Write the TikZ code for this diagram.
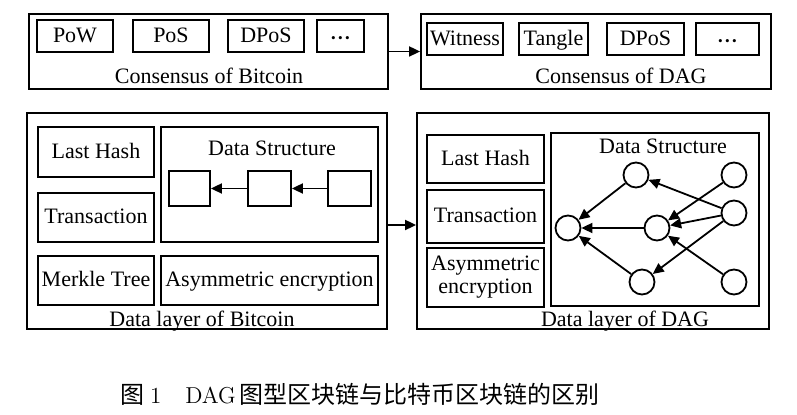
\documentclass[tikz,border=0pt]{standalone}
\usepackage{fontspec}
\setmainfont{Liberation Serif}
\newfontfamily\cjk{Noto Sans CJK SC}
\newfontfamily\lmfont{Latin Modern Roman}
\usetikzlibrary{arrows.meta}

\tikzset{
  box/.style={draw, line width=0.9pt, inner sep=0pt, align=center},
  txt/.style={text height=8pt, text depth=1.5pt},
  lbl/.style={inner sep=0pt, text height=8pt, text depth=1.5pt},
  vtx/.style={circle, draw, line width=0.9pt, minimum size=12.5pt, inner sep=0pt},
  arr/.style={-{Triangle[length=5.5pt,width=5pt]}, line width=0.9pt}
}
\newcommand{\onedot}{\scalebox{0.6}{\textbullet}}
\newcommand{\mydots}{\onedot\hspace{1.2pt}\onedot\hspace{1.2pt}\onedot}

\begin{document}
\begin{tikzpicture}[x=0.5pt, y=-0.5pt, font=\fontsize{11}{12.5}\selectfont]
  % Fix the canvas to the reference size
  \useasboundingbox (0,0) rectangle (797,415);

  % Consensus of Bitcoin
  \node[box, minimum width=179.5pt, minimum height=37.5pt] (cb) at (208.5,51.5) {};
  \node[box, txt, minimum width=38pt, minimum height=16pt] (pow) at (75,36) {PoW};
  \node[box, txt, minimum width=38pt, minimum height=16pt] (pos) at (171,36) {PoS};
  \node[box, txt, minimum width=38pt, minimum height=16pt] (dposb) at (266,36) {DPoS};
  \node[box, txt, minimum width=23.5pt, minimum height=16pt] (dotsb) at (340.5,36) {\mydots};
  \node[lbl] (cbtxt) at (209,77) {Consensus of Bitcoin};

  % Consensus of DAG
  \node[box, minimum width=175pt, minimum height=37.5pt] (cd) at (596,51.5) {};
  \node[box, txt, minimum width=38pt, minimum height=16pt] (wit) at (465,39) {Witness};
  \node[box, txt, minimum width=34.5pt, minimum height=16pt] (tan) at (553.5,39) {Tangle};
  \node[box, txt, minimum width=38.5pt, minimum height=16pt] (dposd) at (645.5,39) {DPoS};
  \node[box, txt, minimum width=31.5pt, minimum height=16pt] (dotsd) at (727.5,39) {\mydots};
  \node[lbl] (cdtxt) at (621,77) {Consensus of DAG};

  \draw[arr] (cb.east) -- (cd.west);

  % Data layer of Bitcoin
  \node[box, minimum width=180pt, minimum height=108pt] (db) at (207,221) {};
  \node[box, txt, minimum width=58pt, minimum height=25pt] (lhb) at (96,152) {Last Hash};
  \node[box, txt, minimum width=58pt, minimum height=24.5pt] (txb) at (96,217.5) {Transaction};
  \node[box, txt, minimum width=58pt, minimum height=24.5pt] (mtb) at (96,280.5) {Merkle Tree};
  \node[box, minimum width=108.5pt, minimum height=57.5pt] (dsb) at (269.5,184.5) {};
  \node[lbl] (dsbtxt) at (272,149) {Data Structure};
  \node[box, txt, minimum width=108.5pt, minimum height=24.5pt] (aeb) at (269.5,280.5) {Asymmetric encryption};
  \node[lbl] (dbtxt) at (202,320) {Data layer of Bitcoin};

  % Chain of blocks
  \node[box, minimum width=20.5pt, minimum height=17.5pt] (blk1) at (189.5,188.5) {};
  \node[box, minimum width=21.5pt, minimum height=17.5pt] (blk2) at (269.5,188.5) {};
  \node[box, minimum width=21.5pt, minimum height=17.5pt] (blk3) at (349.5,188.5) {};
  \draw[arr] (blk2) -- (blk1);
  \draw[arr] (blk3) -- (blk2);

  % Data layer of DAG
  \node[box, minimum width=176pt, minimum height=108pt] (dd) at (593,221) {};
  \node[box, txt, minimum width=58.5pt, minimum height=24pt] (lhd) at (485.5,159) {Last Hash};
  \node[box, txt, minimum width=58.5pt, minimum height=26.5pt] (txd) at (485.5,216.5) {Transaction};
  \node[box, minimum width=58.5pt, minimum height=29.5pt] (aed) at (485.5,277.5) {Asymmetric\\[-1pt]encryption};
  \node[box, minimum width=104pt, minimum height=86.5pt] (dsd) at (655,219.5) {};
  \node[lbl] (dsdtxt) at (663,147) {Data Structure};
  \node[lbl] (ddtxt) at (625,320) {Data layer of DAG};

  \draw[arr] ([yshift=-2pt]db.east) -- ([yshift=-2pt]dd.west);

  % DAG of transactions
  \node[vtx] (ta) at (568,228) {};
  \node[vtx] (tb) at (636,175) {};
  \node[vtx] (tc) at (657,228) {};
  \node[vtx] (td) at (642,282) {};
  \node[vtx] (te) at (734,175) {};
  \node[vtx] (tf) at (734,213) {};
  \node[vtx] (tg) at (734,282) {};
  \draw[arr] (tb) -- (ta);
  \draw[arr] (tc) -- (ta);
  \draw[arr] (td) -- (ta);
  \draw[arr] (tf) -- (tb);
  \draw[arr] (te) -- (tc);
  \draw[arr] (tf) -- (tc);
  \draw[arr] (tf) -- (td);
  \draw[arr] (tg) -- (tc);

  % Caption
  \node[lbl] (cap) at (360,397) {\lmfont\fontsize{11.5}{14}\selectfont{\cjk\fontsize{12}{14}\selectfont 图}\hspace{3pt}1\hspace{12pt}DAG\hspace{2pt}{\cjk\fontsize{12}{14}\selectfont 图型区块链与比特币区块链的区别}};
\end{tikzpicture}
\end{document}
